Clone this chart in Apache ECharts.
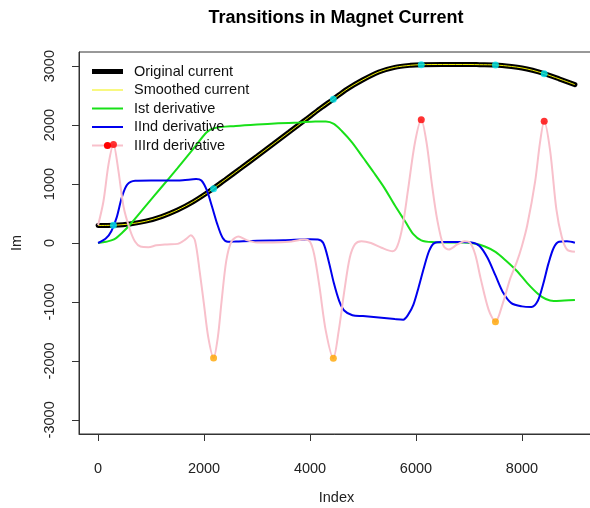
<!DOCTYPE html>
<html><head><meta charset="utf-8">
<script src="https://cdn.jsdelivr.net/npm/echarts@6/dist/echarts.min.js"></script>
<style>html,body{margin:0;padding:0;background:#fff}#c{width:590px;height:508px}</style>
</head><body><div id="c"></div><script>
const chartTitle = 'Transitions in Magnet Current';
const xTicks = [0, 2000, 4000, 6000, 8000];
const yTicks = [-3000, -2000, -1000, 0, 1000, 2000, 3000];
const legendNames = ['Original current', 'Smoothed current', 'Ist derivative', 'IInd derivative', 'IIIrd derivative'];

const currentIndex = [0,300,600,900,1200,1500,1800,2100,2400,2700,3000,3300,3600,3900,4200,4440,4700,5000,5300,5600,5900,6100,6500,7000,7200,7500,7800,8000,8200,8420,8700,9000];
const originalCurrent = [297,302,323,370,449,560,703,878,1074,1272,1472,1674,1877,2081,2286,2440,2611,2769,2901,2980,3015,3025,3028,3028,3025,3020,2995,2970,2930,2873,2785,2686];
const smoothedCurrent = [297,302,323,370,449,560,703,878,1074,1272,1472,1674,1877,2081,2286,2440,2611,2769,2901,2980,3015,3025,3028,3028,3025,3020,2995,2970,2930,2873,2785,2686];

const firstIndex = [0,150,300,450,600,900,1200,1500,1800,2050,2200,2600,3000,3400,3800,4100,4300,4450,4600,4800,5000,5200,5400,5600,5800,5950,6100,6300,6600,6900,7100,7300,7500,7700,7900,8100,8300,8450,8600,8800,9000];
const firstDerivative = [0,20,60,170,310,630,950,1270,1600,1880,1950,1985,2010,2030,2045,2060,2060,2020,1900,1700,1450,1200,940,640,360,150,45,15,10,10,-10,-60,-150,-300,-470,-680,-860,-950,-985,-975,-965];

const secondIndex = [0,150,250,350,450,550,700,1000,1300,1600,1850,1950,2050,2150,2250,2350,2450,2600,3000,3500,4000,4150,4250,4350,4450,4550,4650,4800,5000,5300,5600,5760,5850,5950,6050,6150,6250,6350,6500,6800,7050,7200,7350,7500,7650,7800,8000,8180,8300,8400,8500,8600,8700,8850,9000];
const secondDerivative = [0,80,200,430,780,990,1055,1060,1060,1065,1085,1060,900,620,320,90,20,25,40,45,65,60,0,-300,-680,-980,-1150,-1225,-1240,-1265,-1290,-1300,-1220,-1050,-750,-420,-130,0,15,15,10,-50,-250,-550,-850,-1020,-1075,-1085,-980,-700,-350,-80,20,30,5];

const thirdIndex = [0,100,200,290,380,480,600,700,800,950,1100,1300,1500,1650,1750,1830,1920,2000,2080,2180,2260,2330,2420,2520,2650,2800,3000,3300,3600,3900,4000,4080,4180,4300,4440,4540,4650,4750,4850,4970,5150,5350,5560,5650,5750,5850,5980,6100,6200,6300,6400,6520,6620,6780,6920,7020,7120,7220,7370,7500,7640,7780,7900,8000,8100,8250,8340,8420,8530,8650,8750,8850,9000];
const thirdDerivative = [300,700,1350,1670,1250,620,230,20,-60,-70,-40,-25,-15,60,130,40,-500,-1050,-1600,-1950,-1600,-1000,-300,30,110,50,10,10,20,60,20,-200,-750,-1500,-1955,-1500,-800,-250,-20,30,0,-80,-140,-50,300,900,1700,2090,1700,1000,400,-50,-110,-25,30,5,-200,-600,-1130,-1335,-1020,-600,-330,-50,300,1050,1700,2065,1580,570,110,-110,-150];

const extremaIndex = [290, 2180, 4440, 6100, 7500, 8420];
const currentAtExtrema = [302, 920, 2440, 3025, 3020, 2873];
const maxIndex = [290, 6100, 8420];
const maxValues = [1670, 2090, 2065];
const minIndex = [2180, 4440, 7500];
const minValues = [-1950, -1955, -1335];

const zip = (xs, ys) => xs.map((x, i) => [x, ys[i]]);
const font = 'Liberation Sans, Arial, sans-serif';
const fs = 14.5;
const lineBase = {type: 'line', symbol: 'none', smooth: 0.3, animation: false, silent: true};

const chart = echarts.init(document.getElementById('c'), null, {renderer: 'canvas'});
chart.setOption({
  animation: false,
  backgroundColor: '#ffffff',
  title: {text: chartTitle, left: 331, top: 4, textAlign: 'center',
    textStyle: {fontFamily: font, fontSize: 18, fontWeight: 'bold', color: '#000'}},
  grid: {left: 79, top: 52, width: 515, height: 382, show: true, borderColor: '#333', borderWidth: 1,
    containLabel: false, outerBoundsMode: 'none'},
  legend: {
    data: [
      {name: legendNames[0], icon: 'path://M0 0H31V5H0Z'},
      {name: legendNames[1], icon: 'path://M0 0H31V1H0Z'},
      {name: legendNames[2], icon: 'path://M0 0H31V2H0Z'},
      {name: legendNames[3], icon: 'path://M0 0H31V2H0Z'},
      {name: legendNames[4]}
    ],
    orient: 'vertical', left: 86, top: 59, itemWidth: 31, itemHeight: 9, itemGap: 3.5,
    textStyle: {fontFamily: font, fontSize: fs, lineHeight: 14, color: '#111', padding: [0, 0, 0, 6]},
    selectedMode: false
  },
  xAxis: {
    type: 'value', min: -360, max: 9360,
    name: 'Index', nameLocation: 'middle', nameGap: 56,
    nameTextStyle: {fontFamily: font, fontSize: fs, color: '#222'},
    axisLine: {show: true, onZero: false, lineStyle: {color: '#333'}},
    axisTick: {show: true, length: 7, customValues: xTicks, lineStyle: {color: '#333'}},
    axisLabel: {customValues: xTicks, margin: 27, fontFamily: font, fontSize: fs, color: '#222', formatter: v => String(v)},
    splitLine: {show: false}
  },
  yAxis: {
    type: 'value', min: -3240, max: 3240,
    name: 'Im', nameLocation: 'middle', nameGap: 55,
    nameTextStyle: {fontFamily: font, fontSize: fs, color: '#222'},
    axisLine: {show: true, onZero: false, lineStyle: {color: '#333'}},
    axisTick: {show: true, length: 7, customValues: yTicks, lineStyle: {color: '#333'}},
    axisLabel: {customValues: yTicks, rotate: 90, margin: 22, fontFamily: font, fontSize: fs, color: '#222', formatter: v => String(v)},
    splitLine: {show: false}
  },
  series: [
    Object.assign({}, lineBase, {name: 'Original current', data: zip(currentIndex, originalCurrent), lineStyle: {color: '#000', width: 5, cap: 'round'}, itemStyle: {color: '#000'}}),
    Object.assign({}, lineBase, {name: 'Smoothed current', data: zip(currentIndex, smoothedCurrent), lineStyle: {color: '#f0f000', width: 1}, itemStyle: {color: '#f0f000'}}),
    Object.assign({}, lineBase, {name: 'Ist derivative', data: zip(firstIndex, firstDerivative), lineStyle: {color: '#18e018', width: 2}, itemStyle: {color: '#18e018'}}),
    Object.assign({}, lineBase, {name: 'IInd derivative', data: zip(secondIndex, secondDerivative), lineStyle: {color: '#0000ee', width: 2}, itemStyle: {color: '#0000ee'}}),
    Object.assign({}, lineBase, {name: 'IIIrd derivative', symbol: 'circle', symbolSize: 7, showSymbol: false, data: zip(thirdIndex, thirdDerivative), lineStyle: {color: '#f8c0cb', width: 2}, itemStyle: {color: '#ff0000'}}),
    {type: 'scatter', name: 'pc', data: zip(extremaIndex, currentAtExtrema), symbolSize: 7, itemStyle: {color: '#00e8f0'}, silent: true, z: 5},
    {type: 'scatter', name: 'pmax', data: zip(maxIndex, maxValues), symbolSize: 7, itemStyle: {color: '#ff0000'}, silent: true, z: 5},
    {type: 'scatter', name: 'pmin', data: zip(minIndex, minValues), symbolSize: 7, itemStyle: {color: '#ffa500'}, silent: true, z: 5}
  ]
});
</script></body></html>
